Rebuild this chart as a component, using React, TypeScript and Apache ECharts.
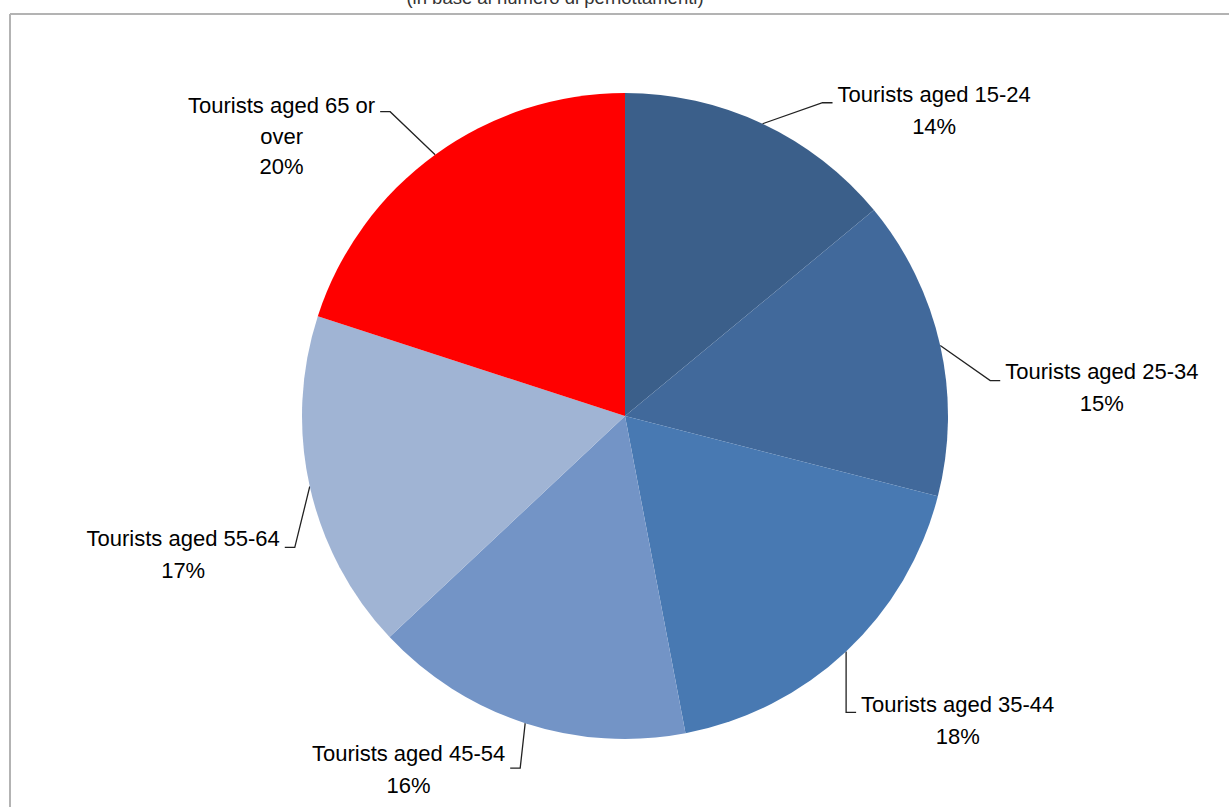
import React, { useEffect, useRef } from "react";
import * as echarts from "echarts";

// ---- data ----
const categories = [
  "Tourists aged 15-24",
  "Tourists aged 25-34",
  "Tourists aged 35-44",
  "Tourists aged 45-54",
  "Tourists aged 55-64",
  "Tourists aged 65 or\nover",
];
const shares = [14, 15, 18, 16, 17, 20];
const sliceColors = ["#3b5f8a", "#41699b", "#4879b2", "#7394c6", "#a0b4d4", "#ff0000"];
const subtitle = "(in base al numero di pernottamenti)";

// ---- label leader-line layout (offset of elbow from slice anchor; first text line offset) ----
const elbowOffsets = [
  [60, -21],
  [50, 35],
  [0, 61],
  [-5, 45],
  [-15, 61],
  [-45, -43],
];
const firstLineDy = [-8, -9, -8, -15, -9, -6];
const lineHeights = [32, 32, 32, 32, 32, 30.5];

export default function App() {
  const ref = useRef<HTMLDivElement>(null);

  useEffect(() => {
    if (!ref.current) return;
    const chart = echarts.init(ref.current, undefined, { renderer: "svg" });
    const fontFamily = "'Liberation Sans', Arial, sans-serif";

    chart.setOption({
      animation: false,
      backgroundColor: "#ffffff",
      graphic: [
        {
          type: "line",
          shape: { x1: 10, y1: 14, x2: 1229, y2: 14 },
          style: { stroke: "#b3b3b3", lineWidth: 2 },
        },
        {
          type: "line",
          shape: { x1: 10, y1: 14, x2: 10, y2: 807 },
          style: { stroke: "#b3b3b3", lineWidth: 2 },
        },
        {
          type: "text",
          x: 555,
          y: 7,
          style: {
            text: subtitle,
            fill: "#333333",
            font: `18.5px ${fontFamily}`,
            align: "center",
            verticalAlign: "bottom",
          },
        },
      ],
      series: [
        {
          type: "pie",
          center: [625, 416],
          radius: 323,
          startAngle: 90,
          clockwise: true,
          avoidLabelOverlap: false,
          data: categories.map((name, i) => ({
            name,
            value: shares[i],
            itemStyle: { color: sliceColors[i] },
            label: { lineHeight: lineHeights[i] },
          })),
          label: {
            show: true,
            position: "outside",
            formatter: (p: any) => `${p.name}\n${p.value}%`,
            color: "#000000",
            fontFamily,
            fontSize: 22,
            lineHeight: 32,
            align: "center",
          },
          labelLine: {
            show: true,
            length: 20,
            length2: 10,
            lineStyle: { color: "#222222", width: 1.3 },
          },
          labelLayout: (params: any) => {
            const i = params.dataIndex;
            const pts = params.labelLinePoints;
            const a = pts ? [pts[0][0], pts[0][1]] : [params.rect.x, params.rect.y];
            const [ox, oy] = elbowOffsets[i];
            const side = ox >= 0 ? 1 : -1;
            const elbow = [a[0] + ox, a[1] + oy];
            const end = [elbow[0] + side * 10, elbow[1]];
            const w = params.labelRect.width;
            const h = params.labelRect.height;
            return {
              x: end[0] + side * (5 + w / 2),
              y: end[1] + firstLineDy[i] - lineHeights[i] / 2 + h / 2,
              align: "center",
              verticalAlign: "middle",
              labelLinePoints: [a, elbow, end],
            };
          },
          emphasis: { disabled: true },
        },
      ],
    });

    return () => chart.dispose();
  }, []);

  return (
    <div
      ref={ref}
      style={{ position: "fixed", left: 0, top: 0, width: 1229, height: 807, background: "#fff" }}
    />
  );
}
